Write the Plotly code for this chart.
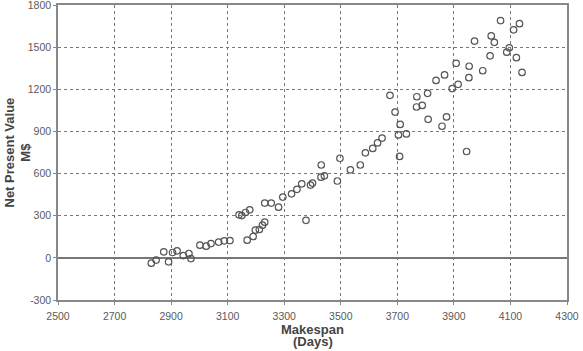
import plotly.graph_objects as go

makespan = [2830, 2847, 2874, 2891, 2905, 2921, 2943, 2963, 2970, 3002,
            3024, 3041, 3068, 3088, 3108, 3140, 3150, 3163, 3178, 3169,
            3190, 3198, 3212, 3223, 3231, 3231, 3254, 3280, 3295, 3326,
            3345, 3362, 3393, 3400, 3430, 3442, 3431, 3377, 3488, 3497,
            3534, 3569, 3587, 3613, 3630, 3646, 3674, 3692, 3710, 3704,
            3732, 3708, 3769, 3768, 3788, 3807, 3809, 3858, 3874, 3837,
            3867, 3894, 3915, 3908, 3954, 3953, 3945, 3973, 4002, 4028,
            4032, 4043, 4065, 4096, 4087, 4111, 4132, 4121, 4141]
npv = [-38, -16, 43, -28, 38, 50, 16, 31, -5, 90,
       83, 102, 112, 121, 123, 306, 301, 323, 342, 126,
       152, 197, 202, 233, 254, 390, 390, 361, 433, 456,
       488, 527, 518, 532, 574, 584, 661, 267, 547, 709,
       627, 661, 748, 779, 818, 853, 1157, 1038, 950, 875,
       882, 722, 1147, 1074, 1085, 1171, 986, 937, 1003, 1263,
       1302, 1205, 1235, 1385, 1364, 1283, 757, 1543, 1332, 1438,
       1580, 1534, 1689, 1495, 1464, 1623, 1667, 1425, 1320]

x_ticks = [2500, 2700, 2900, 3100, 3300, 3500, 3700, 3900, 4100, 4300]
y_ticks = [-300, 0, 300, 600, 900, 1200, 1500, 1800]

fig = go.Figure()
fig.add_trace(go.Scatter(
    x=makespan, y=npv, mode="markers",
    marker=dict(symbol="circle-open", size=6.5, color="#555555", line=dict(width=1.2)),
    showlegend=False,
))

font = "Liberation Sans, Arial, sans-serif"
fig.update_layout(
    width=583, height=351,
    margin=dict(l=58, r=16, t=5, b=51),
    paper_bgcolor="white", plot_bgcolor="white",
    font=dict(family=font, color="#5a5a5a", size=10.5),
)
fig.update_xaxes(
    range=[2500, 4300], tickvals=x_ticks, ticktext=[str(v) for v in x_ticks],
    automargin=False, ticklabeloverflow="allow", ticklabelstandoff=3,
    showgrid=True, gridcolor="#777777", griddash="dot", gridwidth=1,
    showline=True, linecolor="#888888", linewidth=1.5, mirror=True,
    ticks="outside", ticklen=3, tickcolor="#888888",
    zeroline=False,
)
fig.update_yaxes(
    range=[-300, 1800], tickvals=y_ticks, ticktext=[str(v) for v in y_ticks],
    automargin=False, ticklabeloverflow="allow",
    showgrid=True, gridcolor="#777777", griddash="dot", gridwidth=1,
    showline=True, linecolor="#888888", linewidth=1.5, mirror=True,
    ticks="outside", ticklen=3, tickcolor="#888888",
    zeroline=True, zerolinecolor="#777777", zerolinewidth=1.5,
)
title_font = dict(size=13, color="#444444", family=font)
fig.add_annotation(
    text="<b>Makespan</b>", xref="paper", yref="paper", x=0.5, y=0,
    xanchor="center", yanchor="middle", yshift=-29, showarrow=False, font=title_font,
)
fig.add_annotation(
    text="<b>(Days)</b>", xref="paper", yref="paper", x=0.5, y=0,
    xanchor="center", yanchor="middle", yshift=-41, showarrow=False, font=title_font,
)
fig.add_annotation(
    text="<b>Net Present Value<br>M$</b>", xref="paper", yref="paper", x=0, y=0.5,
    xanchor="center", yanchor="middle", xshift=-41, textangle=-90, showarrow=False,
    font=title_font,
)
fig.write_html("out.html")
